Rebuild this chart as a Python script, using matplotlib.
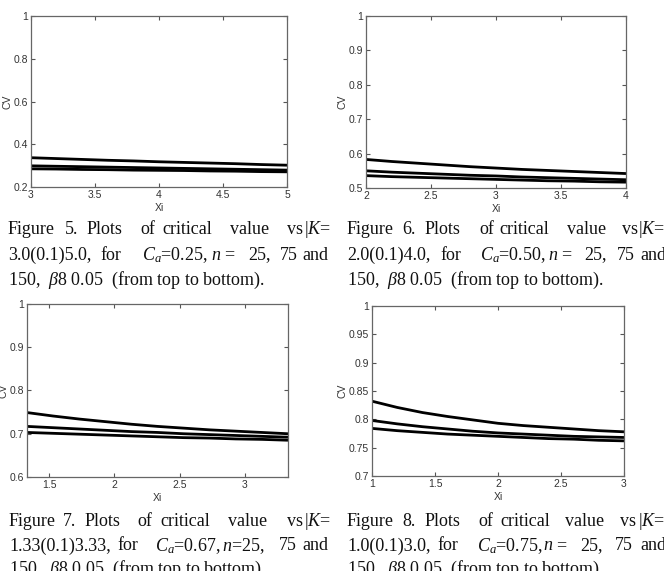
import matplotlib
matplotlib.use("Agg")
import matplotlib.pyplot as plt

plt.rcParams["mathtext.fontset"] = "custom"
plt.rcParams["mathtext.rm"] = "Liberation Serif"
plt.rcParams["mathtext.it"] = "Liberation Serif:italic"
plt.rcParams["mathtext.bf"] = "Liberation Serif:bold"

# ---------------- data ----------------
x5 = [3.0, 3.2, 3.4, 3.6, 3.8, 4.0, 4.2, 4.4, 4.6, 4.8, 5.0]
cv5_n25 = [0.337, 0.333, 0.329, 0.325, 0.322, 0.318, 0.315, 0.312, 0.309, 0.305, 0.302]
cv5_n75 = [0.299, 0.297, 0.295, 0.293, 0.291, 0.289, 0.287, 0.285, 0.283, 0.281, 0.279]
cv5_n150 = [0.285, 0.284, 0.282, 0.281, 0.279, 0.278, 0.277, 0.275, 0.274, 0.272, 0.271]

x6 = [2.0, 2.2, 2.4, 2.6, 2.8, 3.0, 3.2, 3.4, 3.6, 3.8, 4.0]
cv6_n25 = [0.583, 0.577, 0.572, 0.567, 0.562, 0.558, 0.554, 0.551, 0.548, 0.545, 0.542]
cv6_n75 = [0.550, 0.546, 0.543, 0.540, 0.537, 0.535, 0.532, 0.530, 0.528, 0.526, 0.524]
cv6_n150 = [0.536, 0.533, 0.531, 0.529, 0.527, 0.525, 0.523, 0.521, 0.520, 0.518, 0.517]

x7 = [1.33, 1.53, 1.73, 1.93, 2.13, 2.33, 2.53, 2.73, 2.93, 3.13, 3.33]
cv7_n25 = [0.749, 0.741, 0.734, 0.728, 0.722, 0.717, 0.713, 0.709, 0.706, 0.703, 0.700]
cv7_n75 = [0.717, 0.714, 0.711, 0.708, 0.705, 0.703, 0.700, 0.698, 0.696, 0.694, 0.692]
cv7_n150 = [0.703, 0.701, 0.699, 0.697, 0.695, 0.693, 0.691, 0.690, 0.688, 0.687, 0.685]

x8 = [1.0, 1.2, 1.4, 1.6, 1.8, 2.0, 2.2, 2.4, 2.6, 2.8, 3.0]
cv8_n25 = [0.832, 0.821, 0.812, 0.805, 0.799, 0.793, 0.789, 0.786, 0.783, 0.780, 0.778]
cv8_n75 = [0.798, 0.792, 0.787, 0.783, 0.779, 0.776, 0.774, 0.772, 0.770, 0.769, 0.768]
cv8_n150 = [0.784, 0.780, 0.777, 0.774, 0.772, 0.770, 0.768, 0.766, 0.765, 0.763, 0.762]

xticks5 = [3, 3.5, 4, 4.5, 5]
yticks5 = [0.2, 0.4, 0.6, 0.8, 1]
yticklabels5 = ["0.2", "0.4", "0.6", "0.8", "1"]
xticks6 = [2, 2.5, 3, 3.5, 4]
yticks6 = [0.5, 0.6, 0.7, 0.8, 0.9, 1]
yticklabels6 = ["0.5", "0.6", "0.7", "0.8", "0.9", "1"]
xticks7 = [1.5, 2, 2.5, 3]
yticks7 = [0.6, 0.7, 0.8, 0.9, 1]
yticklabels7 = ["0.6", "0.7", "0.8", "0.9", "1"]
xticks8 = [1, 1.5, 2, 2.5, 3]
yticks8 = [0.7, 0.75, 0.8, 0.85, 0.9, 0.95, 1]
yticklabels8 = ["0.7", "0.75", "0.8", "0.85", "0.9", "0.95", "1"]

# ---------------- figure ----------------
W, H = 664, 571
fig = plt.figure(figsize=(W / 100, H / 100), dpi=100)
fig.patch.set_facecolor("white")

def box(l, r, t, b):
    return [l / W, 1 - b / H, (r - l) / W, (b - t) / H]

panels = [
    (box(31, 287, 16, 187), x5, [cv5_n25, cv5_n75, cv5_n150], (3, 5), (0.2, 1), xticks5, yticks5, yticklabels5),
    (box(366, 626, 16, 188), x6, [cv6_n25, cv6_n75, cv6_n150], (2, 4), (0.5, 1), xticks6, yticks6, yticklabels6),
    (box(27, 288, 304, 477), x7, [cv7_n25, cv7_n75, cv7_n150], (1.33, 3.33), (0.6, 1), xticks7, yticks7, yticklabels7),
    (box(372, 624, 306, 476), x8, [cv8_n25, cv8_n75, cv8_n150], (1, 3), (0.7, 1), xticks8, yticks8, yticklabels8),
]

tickfont = dict(family="Liberation Sans", size=7.5, color="#333333")
for rect, xs, series, xl, yl, xt, yt, ytl in panels:
    ax = fig.add_axes(rect)
    for s in series:
        ax.plot(xs, s, color="black", lw=2.0, solid_capstyle="butt")
    ax.set_xlim(*xl)
    ax.set_ylim(*yl)
    ax.set_xticks(xt)
    ax.set_xticklabels([("%g" % v) for v in xt], fontdict=tickfont)
    ax.set_yticks(yt)
    ax.set_yticklabels(ytl, fontdict=tickfont)
    ax.tick_params(direction="in", length=3, width=0.8, color="#555555",
                   top=True, right=True, pad=2)
    for sp in ax.spines.values():
        sp.set_color("#666666")
        sp.set_linewidth(0.9)
    ax.set_xlabel("Xi", fontdict=tickfont, labelpad=2)
    ax.set_ylabel("CV", fontdict=tickfont, labelpad=1)

# ---------------- captions (justified words) ----------------
capfont = dict(family="Liberation Serif", size=13, color="#111111")

def put(x, y, s):
    fig.text(x / W, 1 - y / H, s, ha="left", va="center", **capfont)

def line(y, items):
    for x, s in items:
        put(x, y, s)

# Figure 5
line(229, [(8, "Figure"), (65, "5."), (87, "Plots"), (140, "of"), (162, "critical"),
           (230, "value"), (287, "vs"), (304, "|$K$=")])
line(255, [(8, "3.0(0.1)5.0,"), (100, "for"), (142, "$C_a$=0.25,"), (211, "$n$"),
           (224, "="), (248, "25,"), (280, "75"), (302, "and")])
line(280, [(8, "150,  $\\beta$8 0.05  (from top to bottom).")])

# Figure 6
line(229, [(347, "Figure"), (402, "6."), (425, "Plots"), (479, "of"), (499, "critical"),
           (567, "value"), (622, "vs"), (638, "|$K$=")])
line(255, [(347, "2.0(0.1)4.0,"), (440, "for"), (480, "$C_a$=0.50,"), (548, "$n$"),
           (561, "="), (584, "25,"), (617, "75"), (640, "and")])
line(280, [(347, "150,  $\\beta$8 0.05  (from top to bottom).")])

# Figure 7
line(522, [(9, "Figure"), (63, "7."), (85, "Plots"), (137, "of"), (160, "critical"),
           (228, "value"), (287, "vs"), (304, "|$K$=")])
line(546, [(9, "1.33(0.1)3.33,"), (117, "for"), (155, "$C_a$=0.67,"), (222, "$n$=25,"),
           (279, "75"), (302, "and")])
line(569, [(9, "150,  $\\beta$8 0.05  (from top to bottom).")])

# Figure 8
line(522, [(347, "Figure"), (402, "8."), (425, "Plots"), (478, "of"), (500, "critical"),
           (565, "value"), (620, "vs"), (638, "|$K$=")])
line(546, [(347, "1.0(0.1)3.0,"), (437, "for"), (477, "$C_a$=0.75,"), (543, "$n$"),
           (556, "="), (580, "25,"), (615, "75"), (640, "and")])
line(569, [(347, "150,  $\\beta$8 0.05  (from top to bottom).")])

fig.savefig("out.png", dpi=100, facecolor="white")
